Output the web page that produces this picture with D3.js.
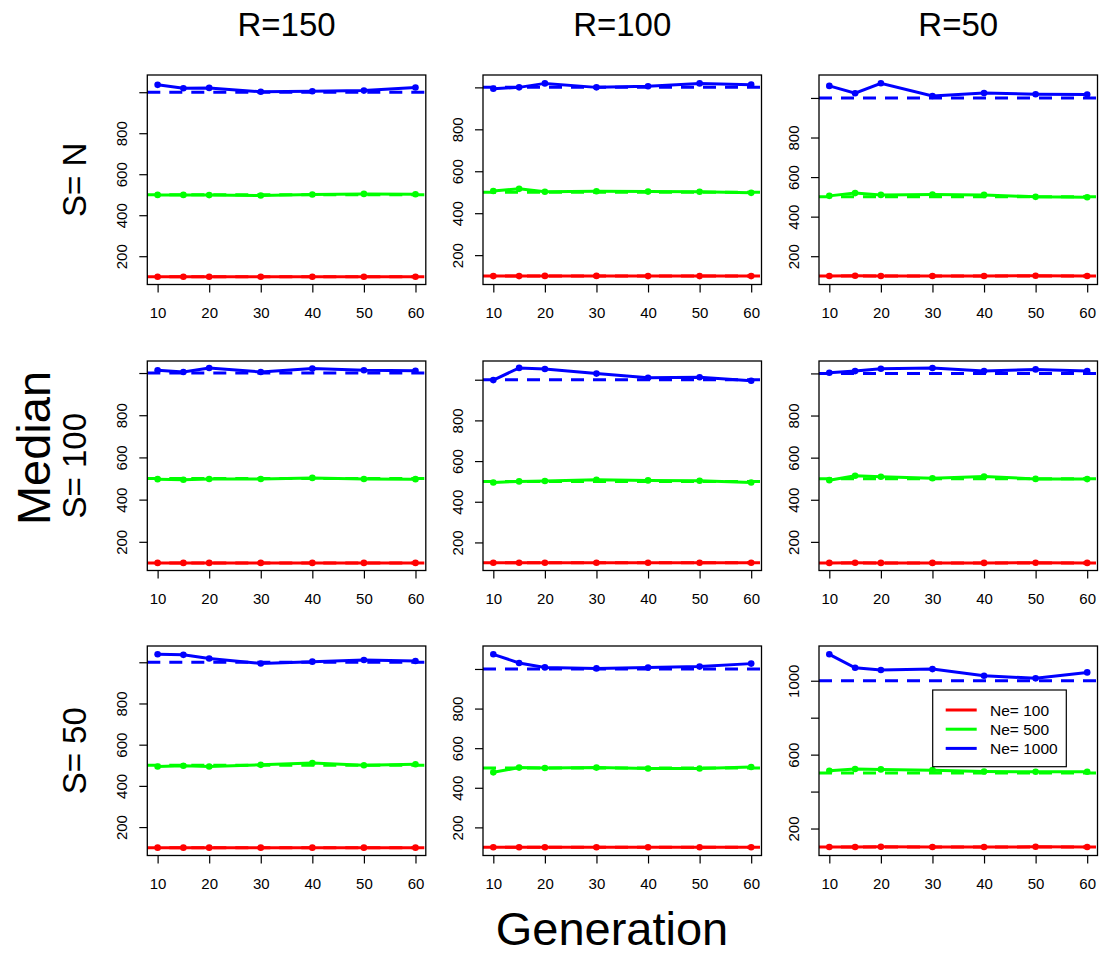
<!DOCTYPE html>
<html>
<head>
<meta charset="utf-8">
<script src="https://cdn.jsdelivr.net/npm/d3@7.9.0/dist/d3.min.js"></script>
<style>
  body { margin: 0; background: #fff; }
  svg { display: block; font-family: "Liberation Sans", Arial, sans-serif; }
</style>
</head>
<body>
<svg id="chart" width="1102" height="955"></svg>
<script>
// generations sampled (x) and panel labels
const generations = [10, 15, 20, 30, 40, 50, 60];
const xTicks = [10, 20, 30, 40, 50, 60];
const yTicks = [200, 400, 600, 800, 1000];
const colLabels = ["R=150", "R=100", "R=50"];
const rowLabels = ["S= N", "S= 100", "S= 50"];
const neLevels = [100, 500, 1000];
const legendLabels = ["Ne= 100", "Ne= 500", "Ne= 1000"];

// median estimates, one row per panel (row-major: S= N, S= 100, S= 50 x R=150, R=100, R=50)
const medianNe100 = [
  [100, 100, 100, 100, 100, 100, 100],
  [100, 100, 101, 101, 100, 100, 100],
  [100, 101, 100, 100, 100, 101, 100],
  [100, 100, 100, 100, 100, 100, 100],
  [100, 100, 100, 100, 100, 100, 100],
  [100, 101, 100, 100, 100, 101, 100],
  [100, 100, 100, 100, 100, 100, 100],
  [100, 100, 100, 100, 100, 100, 100],
  [100, 100, 101, 100, 100, 101, 100]
];
const medianNe500 = [
  [499, 499, 498, 496, 501, 504, 502],
  [506, 516, 502, 505, 503, 502, 497],
  [505, 519, 510, 512, 510, 500, 498],
  [497, 494, 498, 498, 503, 498, 497],
  [495, 500, 502, 508, 505, 503, 495],
  [493, 514, 509, 502, 510, 499, 498],
  [494, 498, 494, 502, 511, 500, 505],
  [478, 502, 500, 502, 497, 497, 505],
  [513, 522, 520, 516, 509, 507, 507]
];
const medianNe1000 = [
  [1036, 1019, 1021, 1002, 1005, 1008, 1023],
  [994, 1000, 1019, 1000, 1005, 1019, 1013],
  [1061, 1024, 1074, 1010, 1025, 1019, 1017],
  [1013, 1005, 1024, 1005, 1021, 1013, 1011],
  [998, 1058, 1053, 1030, 1010, 1012, 995],
  [1003, 1011, 1022, 1026, 1011, 1019, 1011],
  [1039, 1036, 1018, 994, 1003, 1011, 1006],
  [1074, 1030, 1008, 1003, 1007, 1012, 1027],
  [1143, 1070, 1058, 1063, 1027, 1013, 1045]
];
// y-axis limits of each panel
const yLimits = [
  [62, 1084], [60, 1059], [57, 1116],
  [64, 1057], [62, 1092], [64, 1059],
  [62, 1079], [58, 1116], [54, 1188]
];

const colors = ["#ff0000", "#00ff00", "#0000ff"];
const series = [medianNe100, medianNe500, medianNe1000];

const svg = d3.select("#chart");
const colLeft = [147.3, 483, 819];
const rowTop = [75, 361, 646];
const pw = 278.5, ph = 209.5;

const x = d3.scaleLinear().domain([8, 62]).range([0, pw]);

for (let r = 0; r < 3; r++) {
  for (let c = 0; c < 3; c++) {
    const i = r * 3 + c;
    const g = svg.append("g").attr("transform", `translate(${colLeft[c]},${rowTop[r]})`);
    const y = d3.scaleLinear().domain(yLimits[i]).range([ph, 0]);

    // x axis
    const xa = g.append("g").attr("transform", `translate(0,${ph})`)
      .call(d3.axisBottom(x).tickValues(xTicks).tickFormat(d3.format("d")).tickSize(8).tickSizeOuter(0))
      .attr("font-family", null).attr("font-size", null);
    xa.select(".domain").remove();
    xa.selectAll("line").attr("stroke", "#000").attr("stroke-width", 1.2);
    xa.selectAll("text").attr("y", 33).attr("dy", 0)
      .attr("font-size", 15).attr("fill", "#000");

    // y axis with rotated labels
    const ya = g.append("g")
      .call(d3.axisLeft(y).tickValues(yTicks).tickFormat(d3.format("d")).tickSize(8).tickSizeOuter(0))
      .attr("font-family", null).attr("font-size", null);
    ya.select(".domain").remove();
    ya.selectAll("line").attr("stroke", "#000").attr("stroke-width", 1.2);
    ya.selectAll("text")
      .attr("x", 0).attr("dy", 0).attr("y", 0)
      .attr("transform", "translate(-20.5,0) rotate(-90)")
      .attr("text-anchor", "middle")
      .attr("font-size", 15).attr("fill", "#000");
    // drop labels that would collide, like R does
    let lastPos = null, lastW = 0;
    ya.selectAll(".tick").each(function (d) {
      const t = d3.select(this).select("text");
      const w = t.node().getComputedTextLength();
      const pos = y(d);
      if (lastPos !== null && lastPos - pos < (lastW + w) / 2 + 14.5) {
        t.remove();
      } else {
        lastPos = pos; lastW = w;
      }
    });

    // series lines + points
    const line = d3.line().x((d, k) => x(generations[k])).y(d => y(d));
    series.forEach((s, k) => {
      g.append("path").datum(s[i])
        .attr("d", line)
        .attr("fill", "none")
        .attr("stroke", colors[k])
        .attr("stroke-width", 3);
      g.selectAll(null).data(s[i]).join("circle")
        .attr("cx", (d, j) => x(generations[j]))
        .attr("cy", d => y(d))
        .attr("r", 3.3)
        .attr("fill", colors[k]);
    });

    // true Ne reference lines
    neLevels.forEach((v, k) => {
      g.append("line")
        .attr("x1", 0).attr("x2", pw)
        .attr("y1", y(v)).attr("y2", y(v))
        .attr("stroke", colors[k])
        .attr("stroke-width", 3)
        .attr("stroke-dasharray", "13,9");
    });

    // box
    g.append("rect").attr("width", pw).attr("height", ph)
      .attr("fill", "none").attr("stroke", "#000").attr("stroke-width", 1.3);

    // legend in last panel
    if (i === 8) {
      const lg = svg.append("g");
      lg.append("rect")
        .attr("x", 932.7).attr("y", 690).attr("width", 133.6).attr("height", 76.7)
        .attr("fill", "#fff").attr("stroke", "#000").attr("stroke-width", 1.2);
      legendLabels.forEach((lab, k) => {
        const yy = 710 + k * 19.2;
        lg.append("line").attr("x1", 945.7).attr("x2", 976.7)
          .attr("y1", yy).attr("y2", yy)
          .attr("stroke", colors[k]).attr("stroke-width", 3);
        lg.append("text").attr("x", 990).attr("y", yy + 5.5)
          .attr("font-size", 15.5).attr("fill", "#000").text(lab);
      });
    }
  }
}

// column headers
colLabels.forEach((t, c) => {
  svg.append("text")
    .attr("x", colLeft[c] + pw / 2).attr("y", 36)
    .attr("text-anchor", "middle").attr("font-size", 33).text(t);
});
// row labels
rowLabels.forEach((t, r) => {
  const cy = rowTop[r] + ph / 2;
  svg.append("text")
    .attr("transform", `translate(86,${cy}) rotate(-90)`)
    .attr("text-anchor", "middle").attr("font-size", 33).text(t);
});

svg.append("text")
  .attr("transform", "translate(50,448) rotate(-90)")
  .attr("text-anchor", "middle").attr("font-size", 47).text("Median");
svg.append("text")
  .attr("x", 612).attr("y", 945)
  .attr("text-anchor", "middle").attr("font-size", 47).text("Generation");
</script>
</body>
</html>
